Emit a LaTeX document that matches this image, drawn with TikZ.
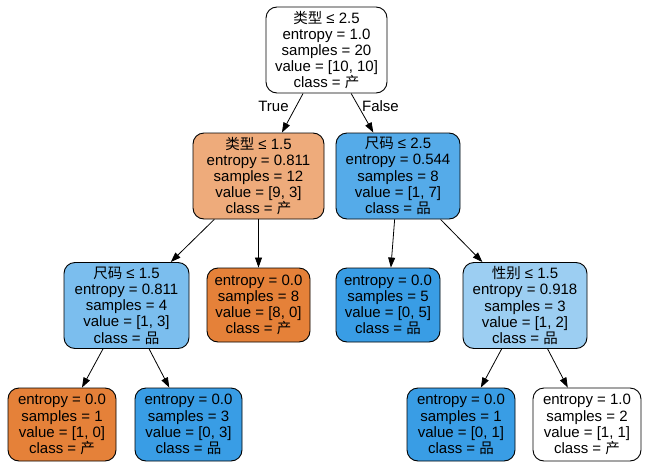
\documentclass[tikz,border=0pt]{standalone}
\usepackage{fontspec}
\setmainfont{Liberation Sans}
\newfontfamily\cjk{Noto Sans CJK SC}
\newcommand{\zh}[1]{{\cjk\fontsize{14.5}{16.2}\selectfont #1}}
\usetikzlibrary{arrows.meta}
\definecolor{PureOrange}{HTML}{E58139}
\definecolor{LightOrange}{HTML}{EEAB7B}
\definecolor{PureBlue}{HTML}{399DE5}
\definecolor{MidBlue}{HTML}{55ABE9}
\definecolor{SoftBlue}{HTML}{7BBEEE}
\definecolor{PaleBlue}{HTML}{9CCEF2}
\tikzset{
  tnode/.style={draw=black,fill=white,rounded corners=11pt,align=center,
                inner sep=0pt,minimum height=86pt,line width=0.9pt,
                font=\fontsize{15}{16.2}\selectfont},
  leaf/.style={tnode,minimum height=74pt},
  arr/.style={-{Triangle[length=10pt,width=7pt]},line width=0.8pt},
  elabel/.style={font=\fontsize{15}{16}\selectfont,inner sep=0pt},
}

\begin{document}
\begin{tikzpicture}[x=1pt,y=-1pt]
  \useasboundingbox (0,0) rectangle (651,474);
  % level 0
  \node[tnode, minimum width=121pt] (root) at (326.5,50)
    {\zh{类型} ≤ 2.5\\entropy = 1.0\\samples = 20\\value = [10, 10]\\class = \zh{产}};
  % level 1
  \node[tnode, minimum width=131pt, fill=LightOrange] (typeA) at (258.5,176)
    {\zh{类型} ≤ 1.5\\entropy = 0.811\\samples = 12\\value = [9, 3]\\class = \zh{产}};
  \node[tnode, minimum width=124pt, fill=MidBlue] (sizeA) at (398,176)
    {\zh{尺码} ≤ 2.5\\entropy = 0.544\\samples = 8\\value = [1, 7]\\class = \zh{品}};
  % level 2
  \node[tnode, minimum width=125pt, fill=SoftBlue] (sizeB) at (126.5,305.5)
    {\zh{尺码} ≤ 1.5\\entropy = 0.811\\samples = 4\\value = [1, 3]\\class = \zh{品}};
  \node[leaf, minimum width=103pt, fill=PureOrange] (leafA) at (258.5,305)
    {entropy = 0.0\\samples = 8\\value = [8, 0]\\class = \zh{产}};
  \node[leaf, minimum width=104pt, fill=PureBlue] (leafB) at (388,305)
    {entropy = 0.0\\samples = 5\\value = [0, 5]\\class = \zh{品}};
  \node[tnode, minimum width=124pt, fill=PaleBlue] (sexA) at (525,305.5)
    {\zh{性别} ≤ 1.5\\entropy = 0.918\\samples = 3\\value = [1, 2]\\class = \zh{品}};
  % level 3
  \node[leaf, minimum width=108pt, minimum height=73pt, fill=PureOrange] (leafC) at (62,424.5)
    {entropy = 0.0\\samples = 1\\value = [1, 0]\\class = \zh{产}};
  \node[leaf, minimum width=107pt, minimum height=73pt, fill=PureBlue] (leafD) at (188.5,424.5)
    {entropy = 0.0\\samples = 3\\value = [0, 3]\\class = \zh{品}};
  \node[leaf, minimum width=108pt, minimum height=73pt, fill=PureBlue] (leafE) at (461,424.5)
    {entropy = 0.0\\samples = 1\\value = [0, 1]\\class = \zh{品}};
  \node[leaf, minimum width=108pt, minimum height=73pt] (leafF) at (587,424.5)
    {entropy = 1.0\\samples = 2\\value = [1, 1]\\class = \zh{产}};

  \draw[arr] (root) -- (typeA);
  \draw[arr] (root) -- (sizeA);
  \draw[arr] (typeA) -- (sizeB);
  \draw[arr] (typeA) -- (leafA);
  \draw[arr] (sizeA) -- (leafB);
  \draw[arr] (sizeA) -- (sexA);
  \draw[arr] (sizeB) -- (leafC);
  \draw[arr] (sizeB) -- (leafD);
  \draw[arr] (sexA) -- (leafE);
  \draw[arr] (sexA) -- (leafF);

  \node[elabel] (truelab) at (273.5,106) {True};
  \node[elabel] (falselab) at (380.5,106) {False};
\end{tikzpicture}
\end{document}
